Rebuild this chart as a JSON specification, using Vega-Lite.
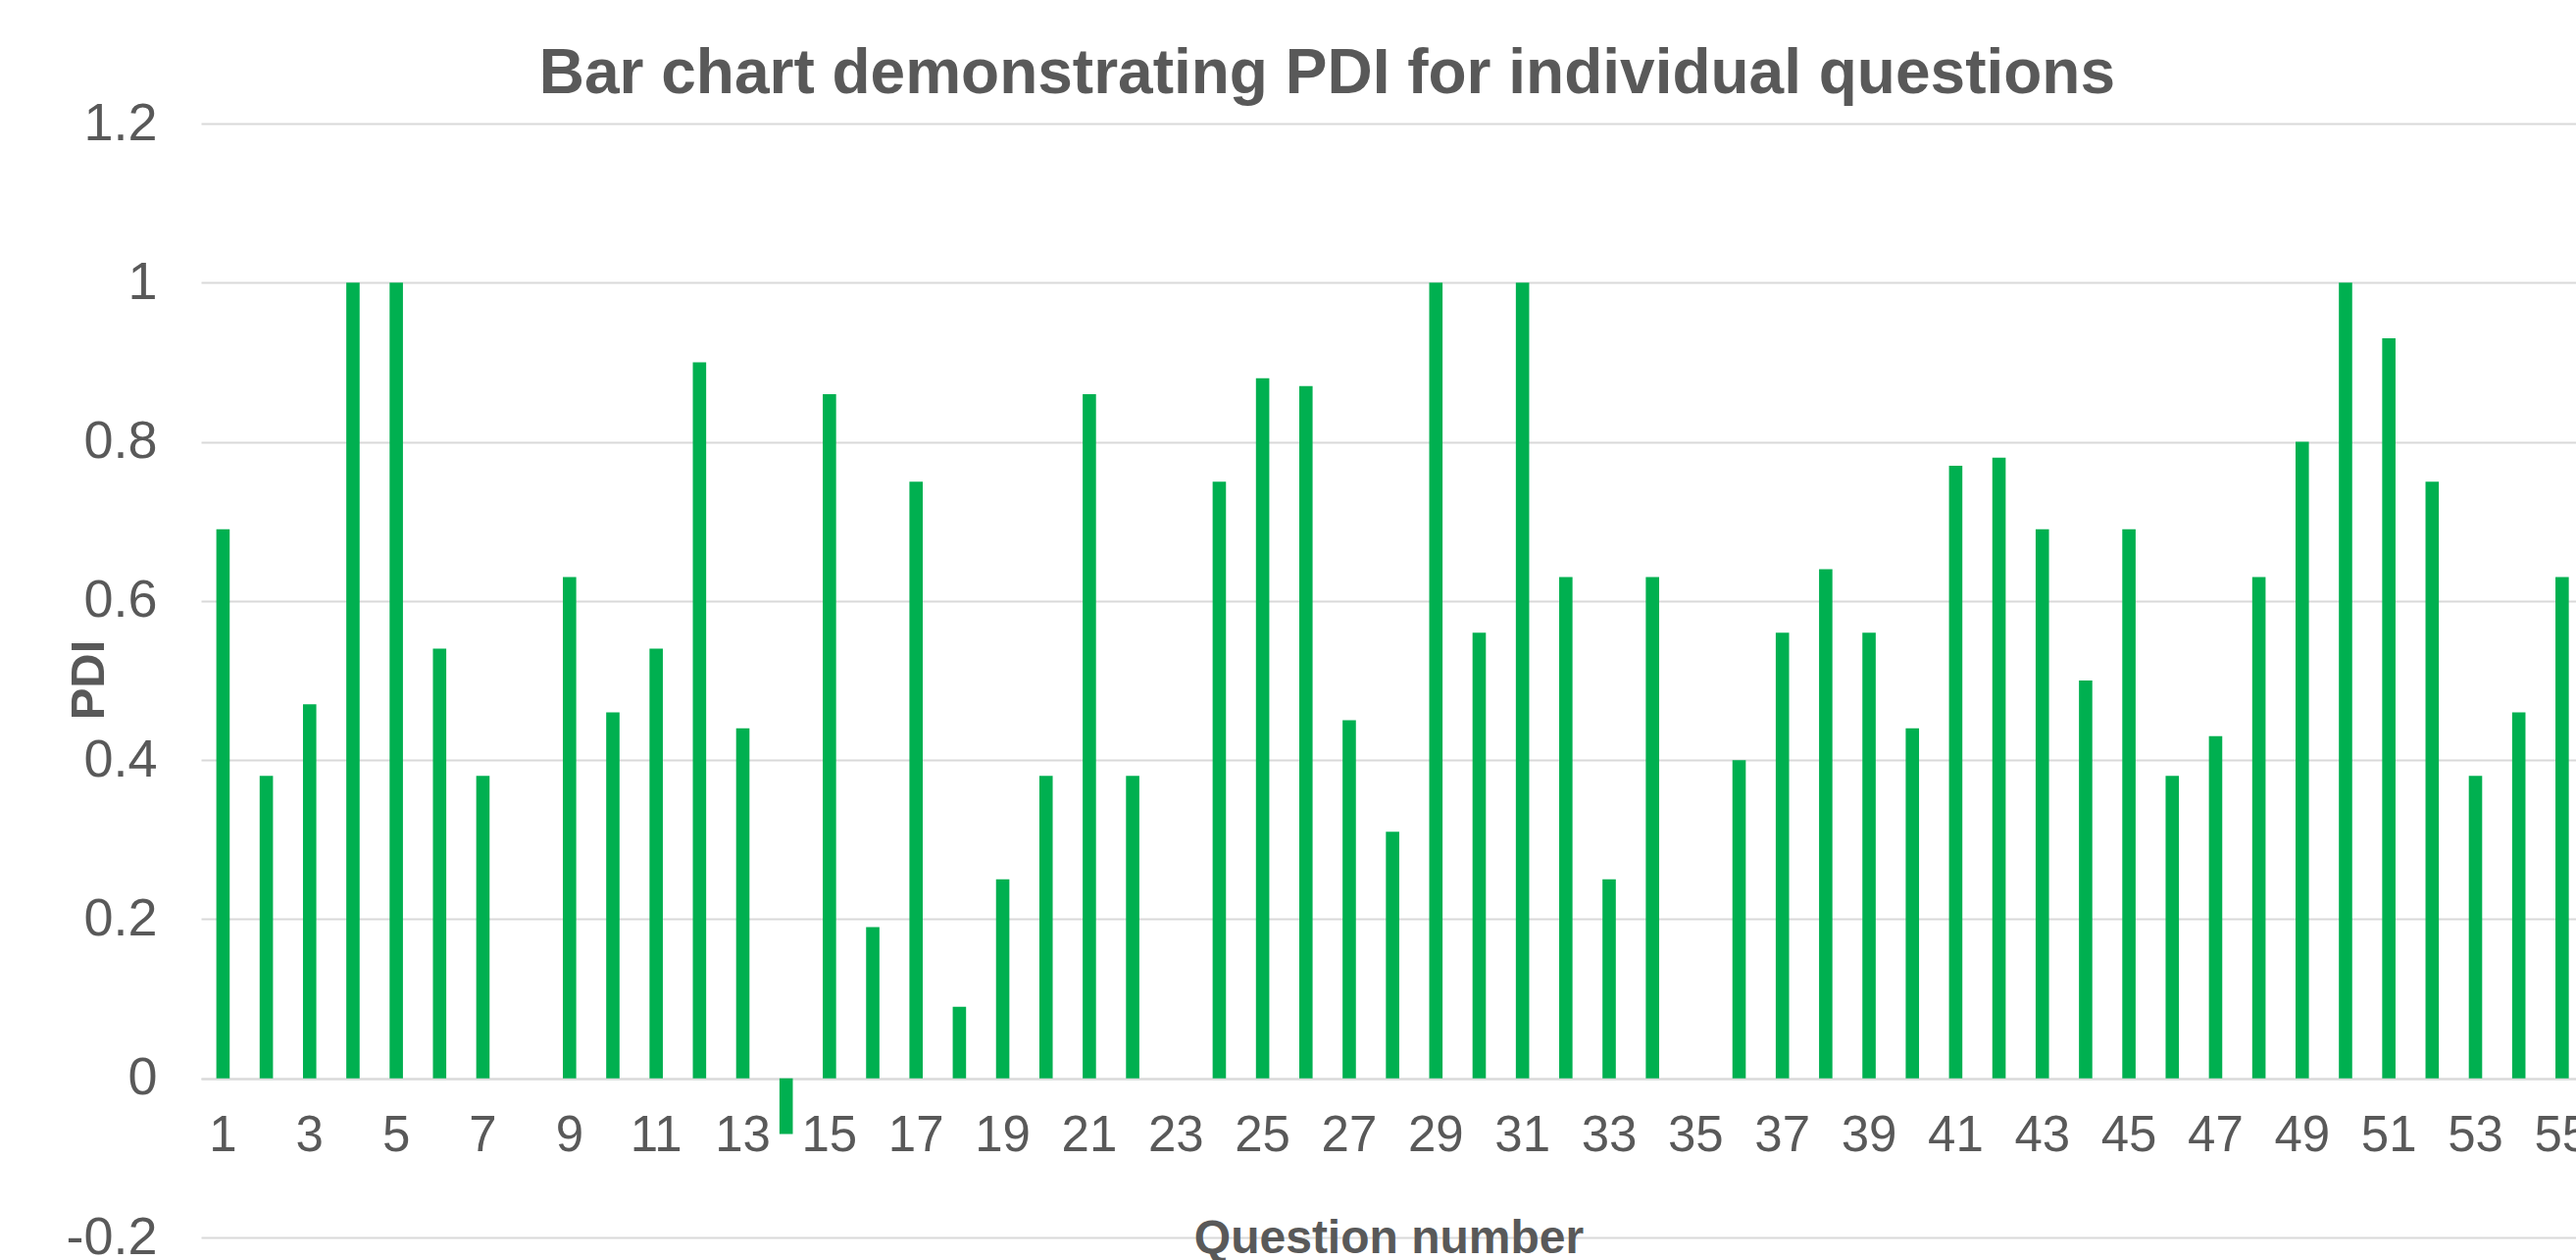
{
  "$schema": "https://vega.github.io/schema/vega-lite/v6.json",
  "autosize": {"type": "none"},
  "padding": {"left": 205, "top": 126, "right": 0, "bottom": 23},
  "width": 2422,
  "height": 1136,
  "background": "white",
  "title": {
    "text": "Bar chart demonstrating PDI for individual questions",
    "font": "Liberation Sans",
    "fontSize": 64,
    "fontWeight": "bold",
    "color": "#595959",
    "anchor": "middle",
    "frame": "bounds",
    "baseline": "alphabetic",
    "offset": 14,
    "dy": 74
  },
  "data": {
    "values": [
      {"question": 1, "pdi": 0.69},
      {"question": 2, "pdi": 0.38},
      {"question": 3, "pdi": 0.47},
      {"question": 4, "pdi": 1.0},
      {"question": 5, "pdi": 1.0},
      {"question": 6, "pdi": 0.54},
      {"question": 7, "pdi": 0.38},
      {"question": 8, "pdi": 0},
      {"question": 9, "pdi": 0.63},
      {"question": 10, "pdi": 0.46},
      {"question": 11, "pdi": 0.54},
      {"question": 12, "pdi": 0.9},
      {"question": 13, "pdi": 0.44},
      {"question": 14, "pdi": -0.07},
      {"question": 15, "pdi": 0.86},
      {"question": 16, "pdi": 0.19},
      {"question": 17, "pdi": 0.75},
      {"question": 18, "pdi": 0.09},
      {"question": 19, "pdi": 0.25},
      {"question": 20, "pdi": 0.38},
      {"question": 21, "pdi": 0.86},
      {"question": 22, "pdi": 0.38},
      {"question": 23, "pdi": 0},
      {"question": 24, "pdi": 0.75},
      {"question": 25, "pdi": 0.88},
      {"question": 26, "pdi": 0.87},
      {"question": 27, "pdi": 0.45},
      {"question": 28, "pdi": 0.31},
      {"question": 29, "pdi": 1.0},
      {"question": 30, "pdi": 0.56},
      {"question": 31, "pdi": 1.0},
      {"question": 32, "pdi": 0.63},
      {"question": 33, "pdi": 0.25},
      {"question": 34, "pdi": 0.63},
      {"question": 35, "pdi": 0},
      {"question": 36, "pdi": 0.4},
      {"question": 37, "pdi": 0.56},
      {"question": 38, "pdi": 0.64},
      {"question": 39, "pdi": 0.56},
      {"question": 40, "pdi": 0.44},
      {"question": 41, "pdi": 0.77},
      {"question": 42, "pdi": 0.78},
      {"question": 43, "pdi": 0.69},
      {"question": 44, "pdi": 0.5},
      {"question": 45, "pdi": 0.69},
      {"question": 46, "pdi": 0.38},
      {"question": 47, "pdi": 0.43},
      {"question": 48, "pdi": 0.63},
      {"question": 49, "pdi": 0.8},
      {"question": 50, "pdi": 1.0},
      {"question": 51, "pdi": 0.93},
      {"question": 52, "pdi": 0.75},
      {"question": 53, "pdi": 0.38},
      {"question": 54, "pdi": 0.46},
      {"question": 55, "pdi": 0.63}
    ]
  },
  "mark": {"type": "bar", "color": "#00B050"},
  "encoding": {
    "x": {
      "field": "question",
      "type": "ordinal",
      "scale": {"paddingInner": 0.692, "paddingOuter": 0.26, "align": 0.68},
      "axis": {
        "title": "Question number",
        "values": [1,3,5,7,9,11,13,15,17,19,21,23,25,27,29,31,33,35,37,39,41,43,45,47,49,51,53,55],
        "labelAngle": 0,
        "labelFont": "Liberation Sans",
        "labelFontSize": 51,
        "labelColor": "#595959",
        "labelBaseline": "alphabetic",
        "labelPadding": 73,
        "labelOverlap": false,
        "labelBound": false,
        "labelFlush": false,
        "ticks": false,
        "tickSize": 0,
        "domain": true,
        "domainColor": "#D9D9D9",
        "domainWidth": 2,
        "grid": false,
        "offset": -162,
        "titleFont": "Liberation Sans",
        "titleFontSize": 48,
        "titleFontWeight": "bold",
        "titleColor": "#595959",
        "titleBaseline": "alphabetic",
        "titleY": 177
      }
    },
    "y": {
      "field": "pdi",
      "type": "quantitative",
      "scale": {"domain": [-0.2, 1.2], "nice": false, "zero": false},
      "axis": {
        "title": "PDI",
        "values": [-0.2, 0, 0.2, 0.4, 0.6, 0.8, 1, 1.2],
        "format": ".1~f",
        "labelExpr": "replace(datum.label, '\u2212', '-')",
        "labelFont": "Liberation Sans",
        "labelFontSize": 54,
        "labelColor": "#595959",
        "labelPadding": 45,
        "ticks": false,
        "tickSize": 0,
        "domain": false,
        "grid": true,
        "gridColor": "#D9D9D9",
        "gridWidth": 2,
        "titleFont": "Liberation Sans",
        "titleFontSize": 49,
        "titleFontWeight": "bold",
        "titleColor": "#595959",
        "titleAngle": -90,
        "titleBaseline": "alphabetic",
        "titleAlign": "center",
        "titleX": -100,
        "titleY": 567
      }
    }
  },
  "config": {
    "view": {"stroke": null}
  }
}
